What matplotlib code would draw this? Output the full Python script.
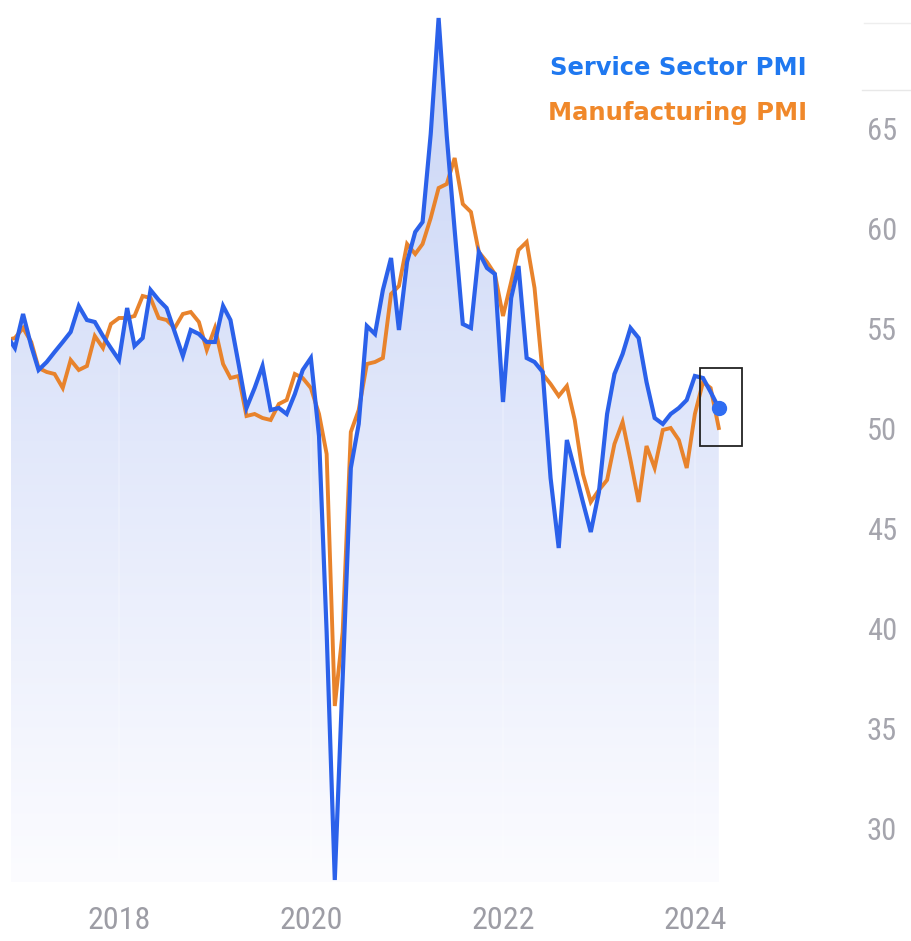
import numpy as np
import pandas as pd
import matplotlib
matplotlib.use('Agg')
import matplotlib.pyplot as plt
import matplotlib.dates as mdates
from matplotlib.patches import Rectangle
from matplotlib.lines import Line2D
from matplotlib.colors import to_rgb

# monthly readings, Nov 2016 .. Apr 2024
months = pd.date_range('2016-11-01', '2024-04-01', freq='MS')

service_pmi = [
    54.6, 54.0,
    55.7, 54.1, 52.9, 53.3, 53.8, 54.3, 54.8, 56.1, 55.4, 55.3, 54.6, 54.0,
    53.4, 56.0, 54.1, 54.5, 56.9, 56.4, 56.0, 54.8, 53.6, 54.9, 54.7, 54.3,
    54.3, 56.1, 55.4, 53.2, 51.0, 52.0, 53.1, 50.9, 51.0, 50.7, 51.7, 52.9,
    53.5, 49.6, 39.8, 27.4, 37.5, 48.0, 50.2, 55.1, 54.7, 56.9, 58.5, 54.9,
    58.3, 59.8, 60.3, 64.7, 70.5, 64.6, 59.9, 55.2, 55.0, 58.8, 58.0, 57.7,
    51.3, 56.5, 58.1, 53.5, 53.3, 52.8, 47.5, 44.0, 49.4, 47.9, 46.3, 44.8,
    46.8, 50.7, 52.7, 53.7, 55.0, 54.5, 52.3, 50.5, 50.2, 50.7, 51.0, 51.4,
    52.6, 52.5, 51.8, 51.0,
]

manufacturing_pmi = [
    54.4, 54.5,
    55.0, 54.3, 53.0, 52.8, 52.7, 52.0, 53.4, 52.9, 53.1, 54.6, 54.0, 55.2,
    55.5, 55.5, 55.6, 56.6, 56.5, 55.5, 55.4, 55.0, 55.7, 55.8, 55.3, 53.9,
    55.0, 53.2, 52.5, 52.6, 50.6, 50.7, 50.5, 50.4, 51.2, 51.4, 52.7, 52.5,
    52.0, 50.7, 48.7, 36.1, 39.8, 49.8, 50.9, 53.2, 53.3, 53.5, 56.7, 57.1,
    59.2, 58.7, 59.2, 60.5, 62.0, 62.2, 63.5, 61.2, 60.8, 58.8, 58.3, 57.7,
    55.6, 57.3, 58.9, 59.3, 57.0, 52.7, 52.2, 51.6, 52.1, 50.4, 47.7, 46.3,
    46.9, 47.4, 49.2, 50.3, 48.4, 46.3, 49.1, 48.0, 49.9, 50.0, 49.4, 48.0,
    50.7, 52.3, 52.0, 50.0,
]

year_ticks = ['2018', '2020', '2022', '2024']
y_ticks = [30, 35, 40, 45, 50, 55, 60, 65]

blue = '#2b61ea'
orange = '#e8832c'
tick_font = ['Liberation Sans Narrow', 'Roboto Condensed', 'Liberation Sans', 'DejaVu Sans']

W, H = 911, 941
fig = plt.figure(figsize=(W / 100, H / 100), dpi=100)
fig.patch.set_facecolor('white')
ax = fig.add_axes([11 / W, 1 - 882 / H, (850 - 11) / W, 882 / H])
ax.set_facecolor('white')

x = mdates.date2num(months)
x_jan18 = mdates.date2num(pd.Timestamp('2018-01-01'))
px_day = 96 / 365.25
x_left = x_jan18 - (119 - 11) / px_day
x_right = x_jan18 + (850 - 119) / px_day
y_bot, y_top = 27.3, 71.4

# gradient fill under the service line
poly = ax.fill_between(x, service_pmi, y_bot, color='none', lw=0)
clip = poly.get_paths()[0]
top_c = np.array(to_rgb('#c8d4f6'))
bot_c = np.array(to_rgb('#fcfcff'))
t = np.linspace(0, 1, 256).reshape(-1, 1, 1)
grad = top_c * (1 - t) + bot_c * t
img = ax.imshow(grad, extent=[x_left, x_right, y_bot, y_top], aspect='auto',
                origin='upper', zorder=1, interpolation='bicubic')
img.set_clip_path(clip, transform=ax.transData)

# faint year gridlines
for yr in year_ticks:
    ax.axvline(mdates.date2num(pd.Timestamp(yr + '-01-01')), color='#ffffff',
               lw=1.2, alpha=0.25, zorder=2)

ax.plot(x, manufacturing_pmi, color=orange, lw=2.8, zorder=3, solid_joinstyle='miter')
ax.plot(x, service_pmi, color=blue, lw=3.0, zorder=4, solid_joinstyle='miter')

# highlight latest reading
ax.plot(x[-1], service_pmi[-1], 'o', ms=10, color='#2f6df2', zorder=6, clip_on=False)
ax.add_patch(Rectangle((x[-1] - 73, 49.1), 161, 3.9, fill=False, ec='#222222',
                       lw=1.3, zorder=5, clip_on=False))

ax.set_xlim(x_left, x_right)
ax.set_ylim(y_bot, y_top)

ax.yaxis.tick_right()
ax.set_yticks(y_ticks)
ax.set_yticklabels([str(v) for v in y_ticks], family=tick_font)
ax.set_xticks([mdates.date2num(pd.Timestamp(yr + '-01-01')) for yr in year_ticks])
ax.set_xticklabels(year_ticks, family=tick_font)
ax.tick_params(axis='y', length=0, pad=12, labelsize=22, labelcolor='#a5a5ad')
ax.tick_params(axis='x', length=0, pad=17, labelsize=23, labelcolor='#9d9da5')
for s in ax.spines.values():
    s.set_visible(False)

# legend as coloured text
fig.text(807 / W, 1 - 68 / H, 'Service Sector PMI', ha='right', va='center',
         fontsize=17.5, fontweight='bold', family=['DejaVu Sans'], color='#1f78f0')
fig.text(807 / W, 1 - 113 / H, 'Manufacturing PMI', ha='right', va='center',
         fontsize=17.5, fontweight='bold', family=['DejaVu Sans'], color='#f0882a')

# faint card edges at the top right
fig.add_artist(Line2D([864 / W, 1], [1 - 23 / H] * 2, color='#eeeeee', lw=1))
fig.add_artist(Line2D([862 / W, 1], [1 - 90 / H] * 2, color='#e8e8e8', lw=1))

fig.savefig('out.png', dpi=100, facecolor='white')
